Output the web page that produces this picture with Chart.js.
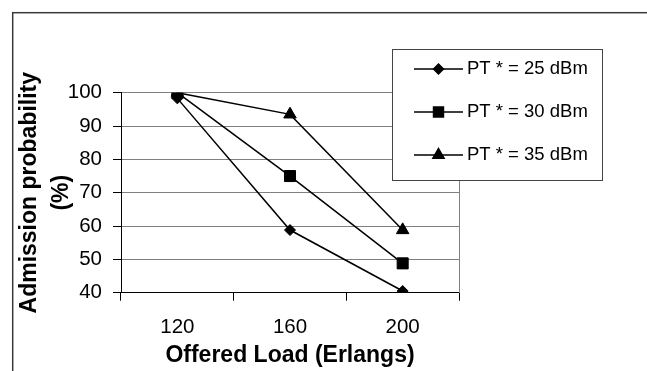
<!DOCTYPE html>
<html>
<head>
<meta charset="utf-8">
<script src="https://cdn.jsdelivr.net/npm/chart.js@4/dist/chart.umd.min.js"></script>
<style>
  html, body { margin: 0; padding: 0; background: #fff; }
  canvas { display: block; }
</style>
</head>
<body>
<canvas id="admissionChart" width="647" height="371"></canvas>
<script>
// offered load (Erlangs) on the x axis
const loads = ["120", "160", "200"];
// admission probability (%) per transmit power
const pt25 = [98.3, 58.8, 40.5];
const pt30 = [100, 75, 48.8];
const pt35 = [100, 93.5, 58.8];
const seriesNames = ["PT * = 25 dBm", "PT * = 30 dBm", "PT * = 35 dBm"];
const yTicks = [40, 50, 60, 70, 80, 90, 100];

const FONT = "'Liberation Sans', Arial, sans-serif";

// dark frame round the whole figure (right and bottom run off the page)
const framePlugin = {
  id: "frame",
  beforeDraw(chart) {
    const ctx = chart.ctx;
    ctx.save();
    ctx.strokeStyle = "#3a3a3a";
    ctx.lineWidth = 1.5;
    ctx.strokeRect(12.7, 12.7, 700, 500);
    ctx.restore();
  }
};

// boxed legend sitting over the top right of the plot
const legendBox = {
  id: "legendBox",
  afterDraw(chart) {
    const ctx = chart.ctx;
    ctx.save();
    ctx.fillStyle = "#fff";
    ctx.fillRect(392.5, 49.5, 210, 131);
    ctx.strokeStyle = "#444";
    ctx.lineWidth = 1;
    ctx.strokeRect(392.5, 49.5, 210, 131);
    const rows = [69, 112, 155];
    chart.data.datasets.forEach((ds, i) => {
      const y = rows[i];
      ctx.strokeStyle = "#000";
      ctx.lineWidth = 1.5;
      ctx.beginPath();
      ctx.moveTo(414, y);
      ctx.lineTo(463, y);
      ctx.stroke();
      ctx.fillStyle = "#000";
      Chart.helpers.drawPoint(ctx, {
        pointStyle: ds.pointStyle,
        radius: ds.pointRadius * 0.9,
        rotation: 0,
        borderWidth: 1
      }, 438.5, y);
      ctx.fillStyle = "#000";
      ctx.font = "18.5px " + FONT;
      ctx.textAlign = "left";
      ctx.textBaseline = "middle";
      ctx.fillText(ds.label, 467, y);
    });
    ctx.restore();
  }
};

const line = (label, data, pointStyle, radius, order) => ({
  label,
  data,
  order,
  borderColor: "#000",
  backgroundColor: "#000",
  borderWidth: 1.5,
  pointStyle,
  pointRadius: radius,
  pointBackgroundColor: "#000",
  pointBorderColor: "#000",
  pointBorderWidth: 1,
  tension: 0
});

new Chart(document.getElementById("admissionChart"), {
  type: "line",
  data: {
    labels: loads,
    datasets: [
      line(seriesNames[0], pt25, "rectRot", 5.5, 2),
      line(seriesNames[1], pt30, "rect", 7.8, 0),
      line(seriesNames[2], pt35, "triangle", 7.2, 1)
    ]
  },
  options: {
    responsive: false,
    animation: false,
    devicePixelRatio: 1,
    layout: { padding: { left: 0, top: 92.7, right: 188, bottom: 0 } },
    plugins: {
      legend: { display: false },
      tooltip: { enabled: false }
    },
    scales: {
      x: {
        type: "category",
        offset: true,
        grid: {
          offset: true,
          drawOnChartArea: false,
          drawTicks: true,
          tickLength: 8,
          tickColor: "#000"
        },
        border: { color: "#000", width: 1 },
        ticks: {
          color: "#000",
          font: { family: FONT, size: 20.5 },
          padding: 14,
          maxRotation: 0
        },
        title: {
          display: true,
          text: "Offered Load (Erlangs)",
          color: "#000",
          font: { family: FONT, size: 23, weight: "bold" },
          padding: { top: 0, bottom: 2 }
        },
        afterFit(scale) { scale.height = 78.3; }
      },
      y: {
        min: 40,
        max: 100,
        afterBuildTicks(scale) { scale.ticks = yTicks.map(v => ({ value: v })); },
        grid: {
          color: ctx => (ctx.tick && ctx.tick.value === 40) ? "rgba(0,0,0,0)" : "#808080",
          lineWidth: 1,
          tickLength: 8,
          tickColor: "#000"
        },
        border: { color: "#000", width: 1 },
        ticks: {
          color: "#000",
          font: { family: FONT, size: 20.5 },
          padding: 11
        },
        title: {
          display: true,
          text: ["Admission probability", "(%)"],
          color: "#000",
          font: { family: FONT, size: 23, weight: "bold", lineHeight: 1.4 },
          padding: { top: 13.4, bottom: 0 }
        },
        afterFit(scale) { scale.width = 121; }
      },
      right: {
        position: "right",
        min: 40,
        max: 100,
        ticks: { display: false },
        grid: { drawOnChartArea: false, drawTicks: false },
        border: { color: "#808080", width: 1 },
        afterFit(scale) { scale.width = 0; }
      }
    }
  },
  plugins: [framePlugin, legendBox]
});
</script>
</body>
</html>
